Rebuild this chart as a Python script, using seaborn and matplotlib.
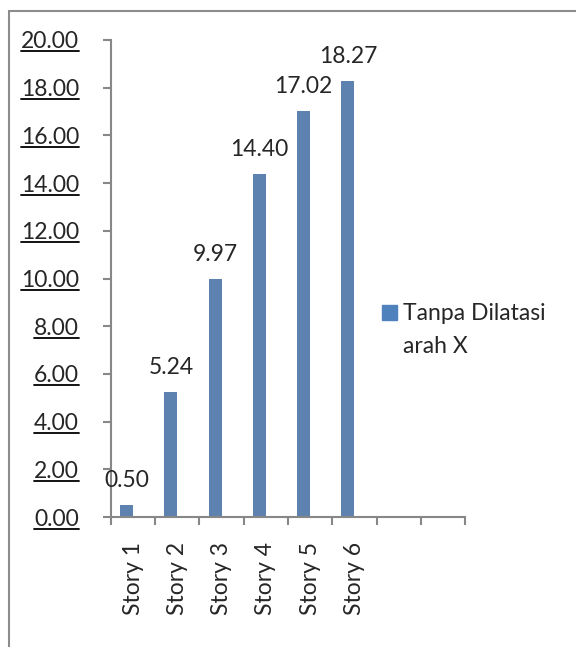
import numpy as np
import pandas as pd
import matplotlib.pyplot as plt
import seaborn as sns
from matplotlib.patches import Patch, Rectangle
from matplotlib.lines import Line2D

# data
stories = ['Story 1', 'Story 2', 'Story 3', 'Story 4', 'Story 5', 'Story 6']
empty_slots = [' ', '  ']   # two unused category slots on the x axis
values = [0.50, 5.24, 9.97, 14.40, 17.02, 18.27]
series_name = 'Tanpa Dilatasi arah X'
legend_lines = ['Tanpa Dilatasi', 'arah X']
y_ticks = [0, 2, 4, 6, 8, 10, 12, 14, 16, 18, 20]

bar_blue = '#4F81BD'
axis_grey = '#878787'
fs = 16.5

sns.set_style('white')
plt.rcParams['font.family'] = ['Lato', 'DejaVu Sans']

# second (empty) series keeps the bars shifted left like the spreadsheet
df = pd.DataFrame({'story': stories, 'value': values, 'series': series_name})
df_blank = pd.DataFrame({'story': stories, 'value': [0.0] * len(stories), 'series': 'blank'})
df_all = pd.concat([df, df_blank], ignore_index=True)
order = stories + empty_slots

fig = plt.figure(figsize=(5.76, 6.47), dpi=100)
ax = fig.add_axes([0.1927, 0.2009, 0.6146, 0.7373])

sns.barplot(data=df_all, x='story', y='value', hue='series', order=order,
            hue_order=[series_name, 'blank'], palette=[bar_blue, bar_blue],
            width=0.587, linewidth=0, legend=False, ax=ax)

ax.bar_label(ax.containers[0], fmt='%.2f', padding=10, fontsize=fs)

ax.set_xlim(-0.5, 7.5)
ax.set_ylim(0, 20)
ax.set_xlabel('')
ax.set_ylabel('')

for side in ['top', 'right']:
    ax.spines[side].set_visible(False)
for side in ['left', 'bottom']:
    ax.spines[side].set_color(axis_grey)
    ax.spines[side].set_linewidth(1.5)

ax.set_yticks(y_ticks)
ax.set_yticklabels(['%.2f' % v for v in y_ticks])
ax.tick_params(axis='y', left=True, length=6, width=1.5, color=axis_grey,
               pad=17, labelsize=fs, direction='out')

ax.set_xticks(range(len(order)))
ax.set_xticklabels(order, rotation=90)
ax.set_xticks(np.arange(-0.5, len(order)), minor=True)
ax.tick_params(axis='x', which='major', length=0, pad=18, labelsize=fs)
ax.tick_params(axis='x', which='minor', bottom=True, length=6, width=1.5,
               color=axis_grey, direction='out')

# legend: the text wraps onto a second line, the marker stays on the first
handles = [Patch(color=bar_blue), Patch(color='none')]
fig.legend(handles=handles, labels=legend_lines,
           loc='upper left', bbox_to_anchor=(0.663, 0.531), frameon=False,
           fontsize=fs, handlelength=0.66, handleheight=0.66,
           handletextpad=0.26, borderpad=0, borderaxespad=0, labelspacing=0.5)

# chart area border (runs off the right and bottom edges)
fig.add_artist(Rectangle((9 / 576, -0.1), 1.0, 1 - 11 / 647 + 0.1,
                         transform=fig.transFigure, fill=False,
                         edgecolor='#8c8c8c', lw=1.5))

# underline the y tick labels (matplotlib has no underline style)
fig.canvas.draw()
renderer = fig.canvas.get_renderer()
for lab in ax.get_yticklabels():
    bb = lab.get_window_extent(renderer)
    y_line = bb.y0 + 1
    fig.add_artist(Line2D([bb.x0, bb.x1], [y_line, y_line], transform=None,
                          color='black', lw=1.3))

fig.savefig('out.png', dpi=100)
